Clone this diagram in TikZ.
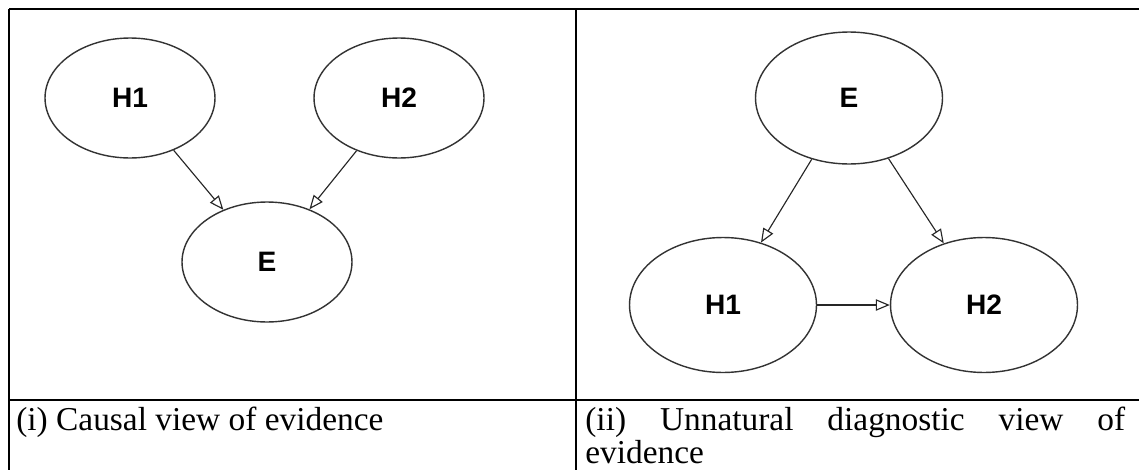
\documentclass[tikz,border=0pt]{standalone}
\usepackage{fontspec}
\setmainfont{Liberation Serif}
\newfontfamily\labfont{Liberation Sans}
\usetikzlibrary{arrows.meta,shapes.geometric,positioning}

\begin{document}
\begin{tikzpicture}[x=0.02cm,y=-0.02cm,
  state/.style={draw=black!80, line width=0.8pt, ellipse, inner sep=0pt,
    font=\labfont\bfseries\fontsize{16}{18}\selectfont},
  small/.style={state, minimum width=3.4cm, minimum height=2.4cm},
  big/.style={state, minimum width=3.74cm, minimum height=2.7cm},
  link/.style={draw=black!85, line width=0.65pt, -{Triangle[open,length=8pt,width=6.5pt]}},
  rule/.style={line width=1.1pt},
  captext/.style={inner sep=0pt, font=\fontsize{19}{19}\selectfont}]
\useasboundingbox (0,0) rectangle (1139,470);
\draw[rule] (9,9) -- (1139,9);
\draw[rule] (9,9) -- (9,470);
\draw[rule] (576,9) -- (576,470);
\draw[rule] (9,400) -- (1139,400);
% (i)
\node[small] (h1) at (130,98) {H1};
\node[small] (h2) at (399,98) {H2};
\node[small] (e) at (267,262) {E};
\draw[link] (h1) -- (e);
\draw[link] (h2) -- (e);
% (ii)
\node[big, minimum height=2.64cm] (ed) at (849,98) {E};
\node[big] (h1d) at (723,305) {H1};
\node[big] (h2d) at (984,305) {H2};
\draw[link] (ed) -- (h1d);
\draw[link] (ed) -- (h2d);
\draw[link] (h1d) -- (h2d);
\node[captext, anchor=base west] (capa) at (16,430) {(i) Causal view of evidence};
\node[captext, anchor=base west, text width=10.8cm, align=left] (capb) at (585,430)
  {\hbox to 10.8cm{(ii)\hfill Unnatural\hfill diagnostic\hfill view\hfill of}\\evidence};
\end{tikzpicture}
\end{document}
